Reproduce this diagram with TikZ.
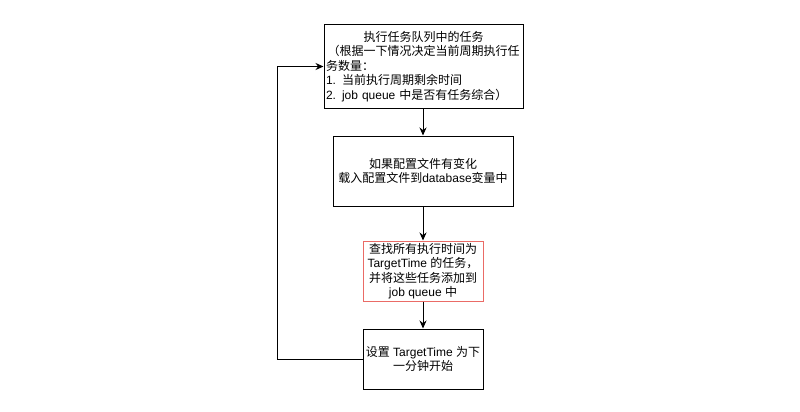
\documentclass[tikz,border=0pt]{standalone}
\usepackage{fontspec}
\setmainfont{Liberation Sans}
\newfontfamily\cjk{Noto Sans CJK SC}
\newcommand\zh[1]{{\cjk #1}}
\usetikzlibrary{arrows.meta}
\definecolor{redline}{RGB}{234,107,102}
\begin{document}
\begin{tikzpicture}[x=1pt,y=-1pt,
  box/.style={draw=black,line width=1pt,rectangle,inner sep=0pt,align=center,
    font=\fontsize{12}{14.5}\selectfont},
  arr/.style={draw=black,line width=1pt,-{Stealth[length=8pt,width=7pt]}}]
\useasboundingbox (0,0) rectangle (800,412);
\fill[white] (0,0) rectangle (800,412);
\node[box,minimum width=199pt,minimum height=83pt,text width=195pt] (b1) at (423.5,66.5)
 {\zh{执行任务队列中的任务}\\\zh{（根据一下情况决定当前周期执行任}\\
  \makebox[195pt][l]{\zh{务数量：}}\\
  \makebox[195pt][l]{1. \zh{当前执行周期剩余时间}}\\
  \makebox[195pt][l]{2. job queue \zh{中是否有任务综合）}}};
\node[box,minimum width=180pt,minimum height=70pt] (b2) at (423,171)
 {\zh{如果配置文件有变化}\\\zh{载入配置文件到}database\zh{变量中}};
\node[box,draw=redline,minimum width=120pt,minimum height=60pt] (b3) at (423,271)
 {\zh{查找所有执行时间为}\\TargetTime \zh{的任务，}\\\zh{并将这些任务添加到}\\job queue \zh{中}};
\node[box,minimum width=120pt,minimum height=60pt] (b4) at (423,359)
 {\zh{设置} TargetTime \zh{为下}\\\zh{一分钟开始}};
\coordinate (ax) at (423,0);
\coordinate (lp) at (277,0);
\draw[arr] (b1.south -| ax) -- (b2.north);
\draw[arr] (b2.south) -- (b3.north);
\draw[arr] (b3.south) -- (b4.north);
\draw[arr] (b4.west) -- (b4.west -| lp) -- (b1.west -| lp) -- (b1.west);
\end{tikzpicture}
\end{document}
